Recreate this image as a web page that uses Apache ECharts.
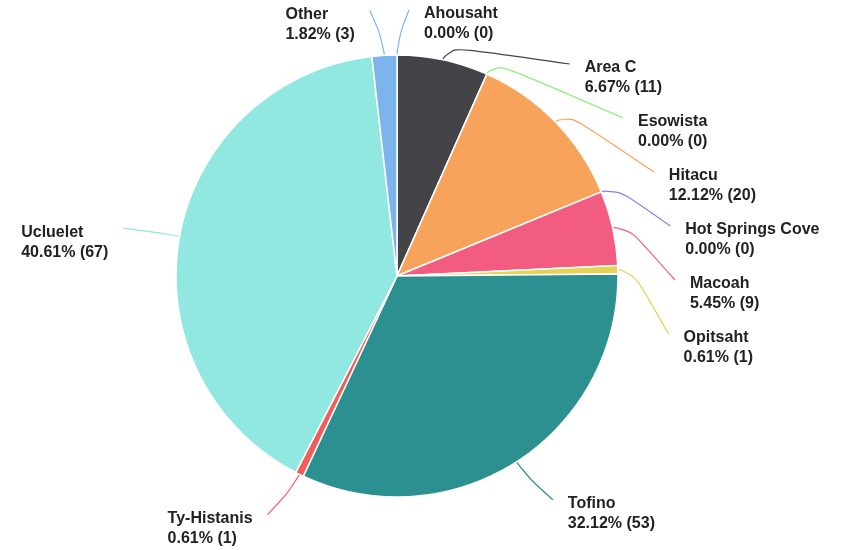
<!DOCTYPE html>
<html>
<head>
<meta charset="utf-8">
<script src="https://cdn.jsdelivr.net/npm/echarts@6/dist/echarts.min.js"></script>
<style>
  html, body { margin: 0; padding: 0; background: #fff; }
  #app { width: 844px; height: 550px; }
</style>
</head>
<body>
<div id="app"></div>
<script>
const names = ["Ahousaht", "Area C", "Esowista", "Hitacu", "Hot Springs Cove", "Macoah", "Opitsaht", "Tofino", "Ty-Histanis", "Ucluelet", "Other"];
const counts = [0, 11, 0, 20, 0, 9, 1, 53, 1, 67, 3];
const colors = ["#7cb5ec", "#434348", "#90ed7d", "#f7a35c", "#8085e9", "#f15c80", "#e4d354", "#2b908f", "#f45b5b", "#91e8e1", "#7cb5ec"];

const total = counts.reduce((a, b) => a + b, 0);

// pie geometry + label distribution (labels stacked along a circle, like the original)
const cx = 397, cy = 276, r = 221;
const labelR = 266, step = 54, crook = 12, gap = 15;

function computeLabels() {
  let acc = 0;
  const items = counts.map((v, i) => {
    const mid = (acc + v / 2) / total * 2 * Math.PI;
    acc += v;
    return { i, mid, right: Math.sin(mid) >= 0, y: cy - labelR * Math.cos(mid) };
  });
  [true, false].forEach((side) => {
    const list = items.filter((d) => d.right === side).sort((a, b) => a.y - b.y);
    let prev = -Infinity;
    list.forEach((d) => {
      d.y = Math.max(d.y, prev + step);
      prev = d.y;
    });
  });
  items.forEach((d) => {
    const dy = d.y - cy;
    const dx = Math.sqrt(Math.max(0, labelR * labelR - dy * dy)) + crook;
    d.endX = d.right ? cx + dx : cx - dx;
    const s = Math.sin(d.mid), c = Math.cos(d.mid);
    d.points = [
      [cx + r * s, cy - r * c],
      [cx + (r + 14) * s, cy - (r + 14) * c],
      [d.endX, d.y]
    ];
  });
  return items;
}
const labelInfo = computeLabels();

const app = document.getElementById("app");
const myChart = echarts.init(app);

myChart.setOption({
  animation: false,
  series: [
    {
      type: "pie",
      center: [cx, cy],
      radius: r,
      startAngle: 90,
      clockwise: true,
      avoidLabelOverlap: false,
      itemStyle: { borderColor: "#fff", borderWidth: 1.5 },
      label: {
        show: true,
        position: "outer",
        color: "#222",
        fontFamily: "Liberation Sans",
        fontWeight: "bold",
        fontSize: 16,
        lineHeight: 20,
        formatter: (p) => "{a|" + p.name + "}\n{a|" + (p.value / total * 100).toFixed(2) + "% (" + p.value + ")}",
        rich: {
          a: { align: "left", color: "#222", fontFamily: "Liberation Sans", fontWeight: "bold", fontSize: 16, lineHeight: 20 }
        }
      },
      labelLine: { show: true, smooth: 0.8, lineStyle: { width: 1.2 } },
      labelLayout: (params) => {
        const d = labelInfo[params.dataIndex];
        return {
          x: d.right ? d.endX + gap : d.endX - gap,
          y: d.y - 6,
          align: d.right ? "left" : "right",
          verticalAlign: "top",
          labelLinePoints: d.points
        };
      },
      data: names.map((n, i) => ({ name: n, value: counts[i], itemStyle: { color: colors[i] } }))
    }
  ]
});
</script>
</body>
</html>
